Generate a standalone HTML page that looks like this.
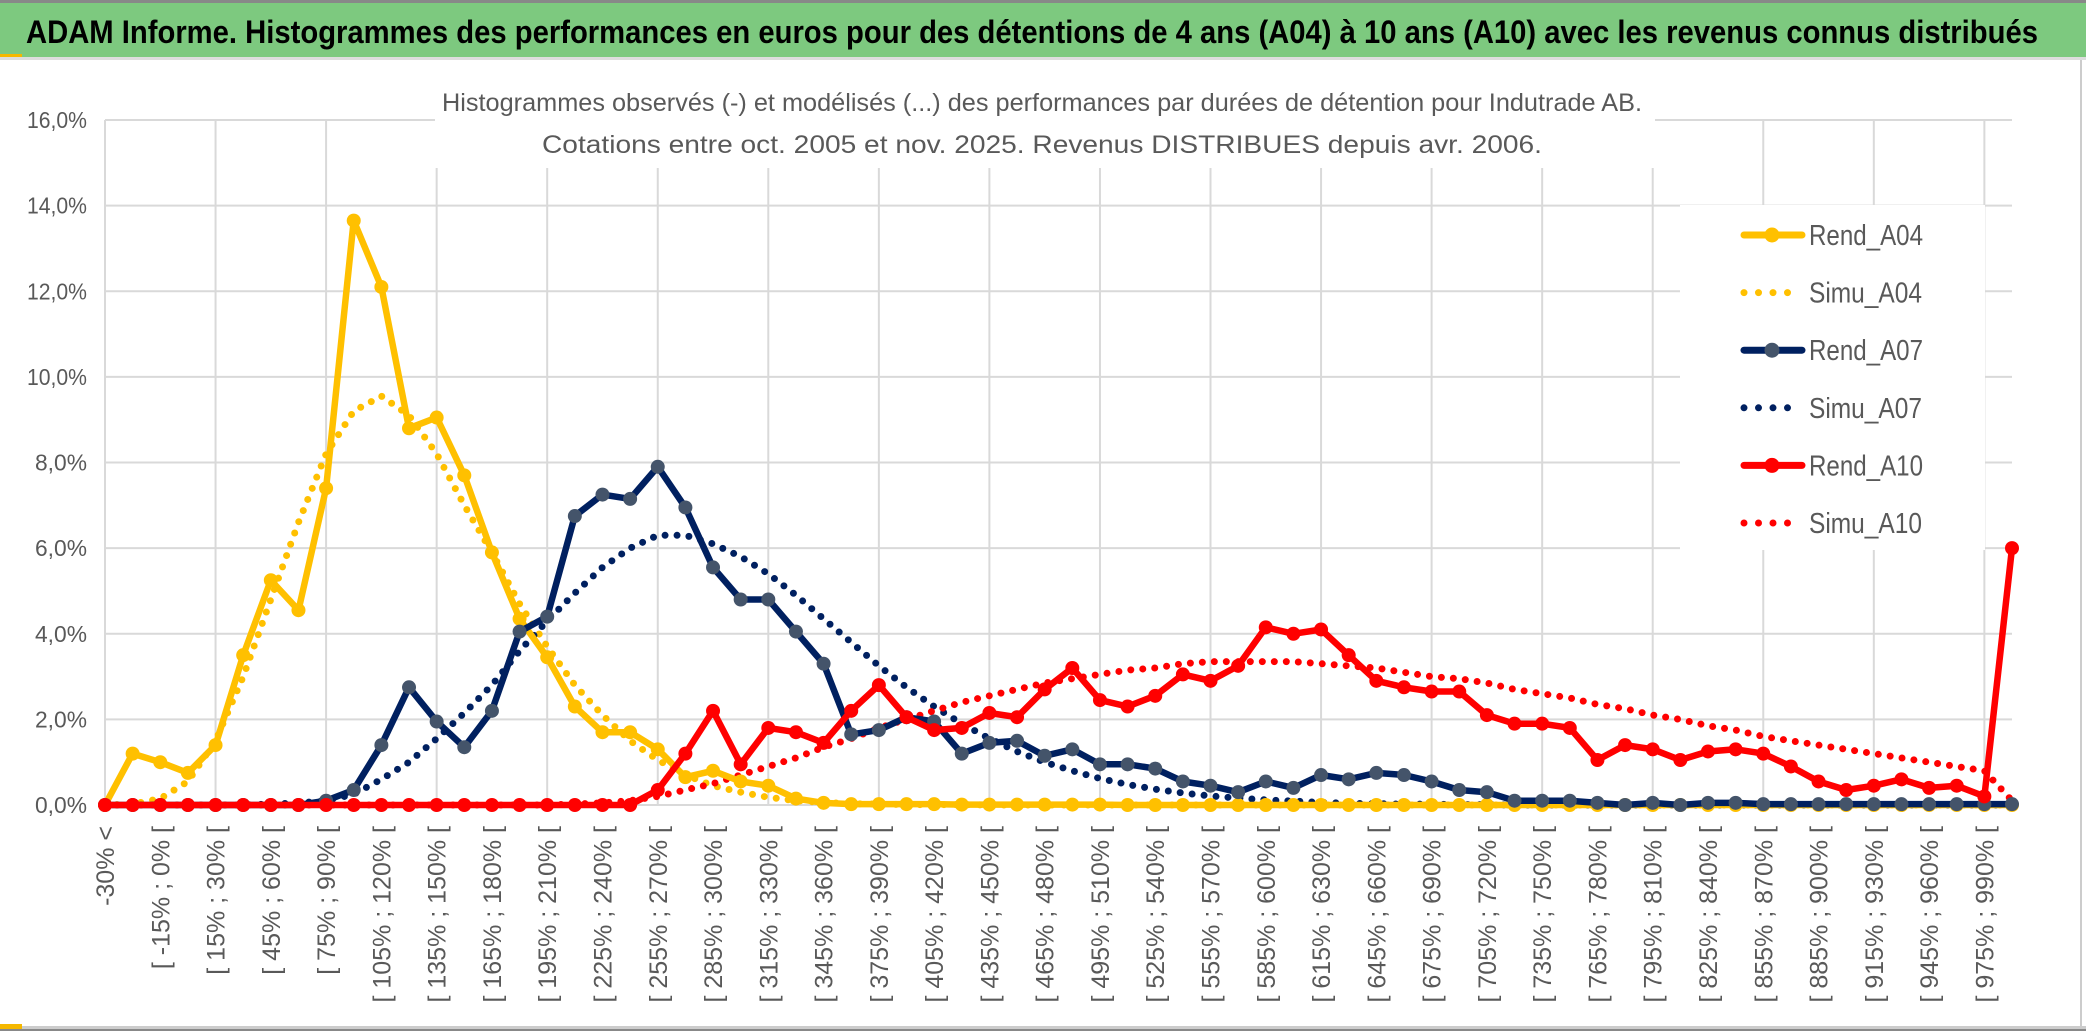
<!DOCTYPE html>
<html><head><meta charset="utf-8"><style>
html,body{margin:0;padding:0;background:#fff;width:2086px;height:1033px;overflow:hidden}
svg{display:block;font-family:"Liberation Sans",sans-serif}
</style></head><body>
<svg id="chart" width="2086" height="1033" viewBox="0 0 2086 1033">
<rect x="0" y="0" width="2086" height="1033" fill="#fff"/>
<rect x="0" y="0" width="2086" height="3" fill="#888"/>
<rect x="0" y="3" width="2086" height="54" fill="#7DC97F"/>
<rect x="0" y="54" width="22" height="4" fill="#F5B800"/>
<rect x="0" y="57" width="2086" height="3" fill="#ddd"/>
<text x="26" y="43" font-size="32" font-weight="bold" fill="#000" textLength="2012" lengthAdjust="spacingAndGlyphs">ADAM Informe. Histogrammes des performances en euros pour des détentions de 4 ans (A04) à 10 ans (A10) avec les revenus connus distribués</text>
<rect x="2080" y="60" width="2" height="968" fill="#ccc"/>
<rect x="0" y="1026" width="2086" height="3" fill="#ccc"/>
<rect x="0" y="1029" width="2086" height="2" fill="#888"/>
<rect x="0" y="1024" width="22" height="5" fill="#F5B800"/>
<g id="grid"></g>
<g id="series"></g>
<rect x="435" y="78" width="1220" height="90" fill="#fff"/>
<text x="1042" y="111" font-size="25" fill="#595959" text-anchor="middle" textLength="1200" lengthAdjust="spacingAndGlyphs">Histogrammes observés (-) et modélisés (...) des performances par durées de détention pour Indutrade AB.</text>
<text x="1042" y="153" font-size="25" fill="#595959" text-anchor="middle" textLength="1000" lengthAdjust="spacingAndGlyphs">Cotations entre oct. 2005 et nov. 2025. Revenus DISTRIBUES depuis avr. 2006.</text>
<g id="legend"></g>
</svg>
<script>
const categories = (function(){const c=["-30% <"];for(let k=1;k<=68;k++){c.push("[ "+(-30+15*(k-1))+"% ; "+(-15+15*(k-1))+"% [");}c.push("> 990%");return c;})();
const rendA04 = [0,1.2,1.0,0.75,1.4,3.5,5.25,4.55,7.4,13.65,12.1,8.8,9.05,7.7,5.9,4.35,3.45,2.3,1.7,1.7,1.3,0.65,0.8,0.55,0.45,0.15,0.05,0.02,0.02,0.02,0.02,0.01,0.01,0.01,0.01,0.01,0.01,0,0,0,0,0,0,0,0,0,0,0,0,0,0,0,0,0,0,0,0,0,0,0,0,0,0,0,0,0,0,0,0,0];
const simuA04 = [0,0.02,0.15,0.55,1.5,3.0,4.8,6.6,8.2,9.2,9.55,9.1,8.2,7.0,5.9,4.7,3.7,2.8,2.1,1.5,1.05,0.7,0.45,0.3,0.18,0.1,0.06,0.03,0.02,0.01,0.01,0.01,0,0,0,0,0,0,0,0,0,0,0,0,0,0,0,0,0,0,0,0,0,0,0,0,0,0,0,0,0,0,0,0,0,0,0,0,0,0];
const rendA07 = [0,0,0,0,0,0,0,0,0.1,0.35,1.4,2.75,1.95,1.35,2.2,4.05,4.4,6.75,7.25,7.15,7.9,6.95,5.55,4.8,4.8,4.05,3.3,1.65,1.75,2.05,1.95,1.2,1.45,1.5,1.15,1.3,0.95,0.95,0.85,0.55,0.45,0.3,0.55,0.4,0.7,0.6,0.75,0.7,0.55,0.35,0.3,0.1,0.1,0.1,0.05,0,0.05,0,0.05,0.05,0.02,0.02,0.02,0.02,0.02,0.02,0.02,0.02,0.02,0.02];
const simuA07 = [0,0,0,0,0,0,0.02,0.05,0.1,0.25,0.6,1.0,1.55,2.15,2.8,3.6,4.3,4.95,5.55,6.0,6.3,6.3,6.1,5.8,5.4,4.9,4.35,3.8,3.25,2.75,2.3,1.9,1.55,1.25,1.0,0.8,0.62,0.48,0.37,0.28,0.21,0.16,0.12,0.09,0.06,0.04,0.03,0.02,0.02,0.01,0.01,0,0,0,0,0,0,0,0,0,0,0,0,0,0,0,0,0,0,0];
const rendA10 = [0,0,0,0,0,0,0,0,0,0,0,0,0,0,0,0,0,0,0,0,0.35,1.2,2.2,0.95,1.8,1.7,1.45,2.2,2.8,2.05,1.75,1.8,2.15,2.05,2.7,3.2,2.45,2.3,2.55,3.05,2.9,3.25,4.15,4.0,4.1,3.5,2.9,2.75,2.65,2.65,2.1,1.9,1.9,1.8,1.05,1.4,1.3,1.05,1.25,1.3,1.2,0.9,0.55,0.35,0.45,0.6,0.4,0.45,0.2,6.0];
const simuA10 = [0,0,0,0,0,0,0,0,0,0,0,0,0,0,0,0,0,0.02,0.05,0.1,0.2,0.35,0.5,0.7,0.9,1.1,1.35,1.55,1.8,2.0,2.2,2.4,2.55,2.7,2.85,2.95,3.05,3.15,3.2,3.3,3.35,3.35,3.35,3.35,3.3,3.25,3.2,3.1,3.0,2.95,2.85,2.7,2.6,2.5,2.35,2.25,2.1,2.0,1.85,1.75,1.6,1.5,1.4,1.3,1.2,1.1,1.0,0.9,0.8,0.1];
const yTicks = [0,2,4,6,8,10,12,14,16];
const yTickLabels = ["0,0%","2,0%","4,0%","6,0%","8,0%","10,0%","12,0%","14,0%","16,0%"];

const NS="http://www.w3.org/2000/svg";
const X0=105,X1=2012,Y0=805,Y1=120;
function xs(i){return X0+(X1-X0)*i/(categories.length-1);}
function ys(v){return Y0-(Y0-Y1)*v/16;}
function mk(tag,attrs,parent){const e=document.createElementNS(NS,tag);for(const k in attrs)e.setAttribute(k,attrs[k]);parent.appendChild(e);return e;}
const grid=document.getElementById('grid');
yTicks.forEach((t,j)=>{
  const l=mk('line',{x1:X0,x2:X1,y1:ys(t),y2:ys(t),stroke:'#d9d9d9','stroke-width':2},grid);
  
  
  const tx=mk('text',{x:87,y:ys(t)+8,'font-size':23,fill:'#595959','text-anchor':'end',textLength:yTickLabels[j].length>4?60:52,lengthAdjust:'spacingAndGlyphs'},grid);
  tx.textContent=yTickLabels[j];
  
  
});
for(let i=0;i<categories.length;i+=4){
  const l=mk('line',{x1:xs(i),x2:xs(i),y1:Y1,y2:Y0,stroke:'#d9d9d9','stroke-width':2},grid);
  
  
}
for(let i=0;i<categories.length;i+=2){
  const x=xs(i);
  const tx=mk('text',{x:x+9,y:826,'font-size':25,fill:'#595959','text-anchor':'end',transform:'rotate(-90 '+(x+9)+' 826)'},grid);
  tx.textContent=categories[i];
  
  
}
const ser=document.getElementById('series');
function pts(arr){return arr.map((v,i)=>xs(i).toFixed(1)+','+ys(v).toFixed(1)).join(' ');}
function dotted(arr,color,name){
  const p=mk('polyline',{points:pts(arr),fill:'none',stroke:color,'stroke-width':7,'stroke-linecap':'round','stroke-dasharray':'0 12'},ser);
  
  
}
function solid(arr,color,mcolor,name){
  const p=mk('polyline',{points:pts(arr),fill:'none',stroke:color,'stroke-width':6.5,'stroke-linejoin':'round'},ser);
  
  
  arr.forEach((v,i)=>{
    const c=mk('circle',{cx:xs(i),cy:ys(v),r:7,fill:mcolor},ser);
    
    
  });
}
dotted(simuA04,'#FFC000','simu-a04-line');
dotted(simuA07,'#002060','simu-a07-line');
dotted(simuA10,'#FF0000','simu-a10-line');
solid(rendA04,'#FFC000','#FFC000','rend-a04-line');
solid(rendA07,'#002060','#44546A','rend-a07-line');
solid(rendA10,'#FF0000','#FF0000','rend-a10-line');

const leg=document.getElementById('legend');
const lb=mk('rect',{x:1680,y:205,width:305,height:345,fill:'#fff'},leg);


const entries=[["Rend_A04",'#FFC000','#FFC000',false],["Simu_A04",'#FFC000','',true],["Rend_A07",'#002060','#44546A',false],["Simu_A07",'#002060','',true],["Rend_A10",'#FF0000','#FF0000',false],["Simu_A10",'#FF0000','',true]];
entries.forEach((e,j)=>{
  const y=235+j*57.6;
  const g=mk('g',{},leg);
  
  
  if(e[3]){
    mk('line',{x1:1744,x2:1802,y1:y,y2:y,stroke:e[1],'stroke-width':7,'stroke-linecap':'round','stroke-dasharray':'0 14.5'},g);
  }else{
    mk('line',{x1:1744,x2:1802,y1:y,y2:y,stroke:e[1],'stroke-width':7,'stroke-linecap':'round'},g);
    mk('circle',{cx:1772,cy:y,r:7.5,fill:e[2]},g);
  }
  const t=mk('text',{x:1809,y:y+10,'font-size':29,fill:'#595959',textLength:e[0].startsWith('Rend')?114:113,lengthAdjust:'spacingAndGlyphs'},g);
  t.textContent=e[0];
});
</script>
</body></html>
